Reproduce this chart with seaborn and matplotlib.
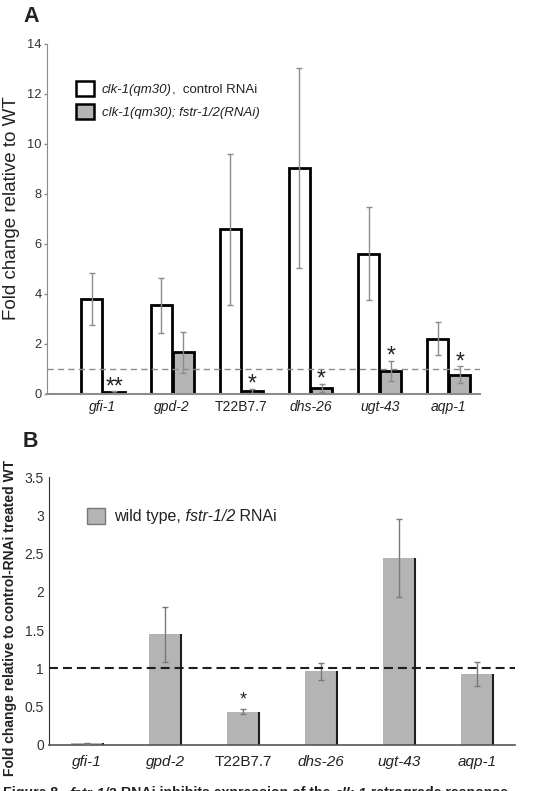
import pandas as pd
import matplotlib.pyplot as plt
import seaborn as sns
from matplotlib.patches import Patch

genes = ['gfi-1', 'gpd-2', 'T22B7.7', 'dhs-26', 'ugt-43', 'aqp-1']

# Panel A: clk-1(qm30), fold change relative to WT
ctrl_a = [3.8, 3.55, 6.6, 9.05, 5.62, 2.22]
ctrl_a_err = [1.05, 1.1, 3.02, 4.0, 1.85, 0.67]
fstr_a = [0.07, 1.67, 0.12, 0.24, 0.94, 0.77]
fstr_a_err = [0.04, 0.82, 0.1, 0.17, 0.4, 0.34]
sig_a = ['**', '', '*', '*', '*', '*']
yticks_a = [0, 2, 4, 6, 8, 10, 12, 14]

# Panel B: wild type, fstr-1/2 RNAi relative to control RNAi
wt_b = [0.02, 1.445, 0.435, 0.962, 2.437, 0.927]
wt_b_err = [0.004, 0.36, 0.033, 0.113, 0.51, 0.163]
sig_b = ['', '', '*', '', '', '']
yticks_b = [0, 0.5, 1, 1.5, 2, 2.5, 3, 3.5]
yticklabels_b = ['0', '0.5', '1', '1.5', '2', '2.5', '3', '3.5']

GREY = '#b4b4b4'

sns.set_style('ticks')
plt.rcParams['font.family'] = ['Liberation Sans', 'DejaVu Sans']
plt.rcParams['text.color'] = '#222222'

fig = plt.figure(figsize=(5.6, 7.91), dpi=100)
ax1 = fig.add_axes([47/560, 1 - 394/791, 433/560, 350/791])
ax2 = fig.add_axes([49/560, 1 - 745/791, 466/560, 268/791])

# ---------------- Panel A ----------------
df_a = pd.DataFrame({'gene': genes * 2,
                     'value': ctrl_a + fstr_a,
                     'group': ['ctrl'] * len(genes) + ['fstr'] * len(genes)})
sns.barplot(data=df_a, x='gene', y='value', hue='group', hue_order=['ctrl', 'fstr'],
            palette={'ctrl': 'white', 'fstr': GREY}, saturation=1,
            edgecolor='black', linewidth=2, width=0.64, gap=0.05,
            errorbar=None, legend=False, ax=ax1)

for cont, errs in zip(ax1.containers, [ctrl_a_err, fstr_a_err]):
    xs = [p.get_x() + p.get_width() / 2 for p in cont]
    hs = [p.get_height() for p in cont]
    ax1.errorbar(xs, hs, yerr=errs, fmt='none', ecolor='#8c8c8c',
                 elinewidth=1, capsize=2.5, capthick=1, zorder=3)

xs_f = [p.get_x() + p.get_width() / 2 for p in ax1.containers[1]]
for x, v, e, s in zip(xs_f, fstr_a, fstr_a_err, sig_a):
    if s:
        ax1.annotate(s, (x, v + e), xytext=(0, -1.5), textcoords='offset points',
                     ha='center', va='baseline', fontsize=16.5)

ax1.axhline(1, color='#8c8c8c', lw=1, ls=(0, (4.5, 3)), zorder=4)
ax1.set_xlim(-0.81, 5.45)
ax1.set_ylim(0, 14)
ax1.set_yticks(yticks_a)
ax1.set_xlabel('')
ax1.set_ylabel('')
sns.despine(ax=ax1)
ax1.spines['left'].set_color('#8c8c8c')
ax1.spines['bottom'].set_color('#8c8c8c')
ax1.spines['bottom'].set_linewidth(1.5)
ax1.tick_params(axis='y', length=2.5, width=1, color='#8c8c8c', pad=1.5,
                labelsize=9.3, labelcolor='#333333')
ax1.tick_params(axis='x', length=0, pad=4.5, labelsize=10, labelcolor='#222222')
for lbl in ax1.get_xticklabels():
    if lbl.get_text() != 'T22B7.7':
        lbl.set_style('italic')

handles_a = [Patch(facecolor='white', edgecolor='black', lw=1.8),
             Patch(facecolor=GREY, edgecolor='black', lw=1.8)]
leg_a = ax1.legend(handles_a, ['clk-1(qm30)', 'clk-1(qm30); fstr-1/2(RNAi)'],
                   loc='upper left', bbox_to_anchor=(76/560, 1 - 81/791),
                   bbox_transform=fig.transFigure, frameon=False, fontsize=9.5,
                   handlelength=1.37, handleheight=1.37, handletextpad=0.6,
                   labelspacing=0.62, borderpad=0, borderaxespad=0)
for t in leg_a.get_texts():
    t.set_style('italic')
ax1.annotate(',  control RNAi', xy=(1, 0), xycoords=leg_a.get_texts()[0],
             va='bottom', fontsize=9.5, zorder=6)

fig.text(12/560, 1 - 208/791, 'Fold change relative to WT', rotation=90,
         ha='center', va='center', fontsize=13.5)
fig.text(23/560, 1 - 22/791, 'A', fontsize=15.5, weight='heavy', va='baseline')

# ---------------- Panel B ----------------
df_b = pd.DataFrame({'gene': genes, 'value': wt_b})
sns.barplot(data=df_b, x='gene', y='value', color=GREY, saturation=1,
            width=0.41, errorbar=None, linewidth=0, ax=ax2)
bars = ax2.containers[0]
ax2.vlines([p.get_x() + p.get_width() for p in bars], 0,
           [p.get_height() for p in bars], colors='#1e1e1e', lw=1.5, zorder=2)
xs_b = [p.get_x() + p.get_width() / 2 for p in bars]
ax2.errorbar(xs_b, [p.get_height() for p in bars], yerr=wt_b_err, fmt='none',
             ecolor='#7a7a7a', elinewidth=1, capsize=2, capthick=1, zorder=3)
for x, v, e, s in zip(xs_b, wt_b, wt_b_err, sig_b):
    if s:
        ax2.annotate(s, (x, v + e), xytext=(0, 3.5), textcoords='offset points',
                     ha='center', va='baseline', fontsize=13)

ax2.axhline(1, color='#1e1e1e', lw=1.5, ls=(0, (4.3, 2.4)), zorder=4)
ax2.set_xlim(-0.49, 5.49)
ax2.set_ylim(0, 3.5)
ax2.set_yticks(yticks_b)
ax2.set_yticklabels(yticklabels_b)
ax2.set_xlabel('')
ax2.set_ylabel('')
sns.despine(ax=ax2)
ax2.spines['left'].set_color('#333333')
ax2.spines['bottom'].set_color('#555555')
ax2.spines['bottom'].set_linewidth(1.2)
ax2.tick_params(axis='y', length=0, pad=3.6, labelsize=10, labelcolor='#333333')
ax2.tick_params(axis='x', length=0, pad=7, labelsize=11, labelcolor='#222222')
for lbl in ax2.get_xticklabels():
    if lbl.get_text() != 'T22B7.7':
        lbl.set_style('italic')

leg_b = ax2.legend([Patch(facecolor=GREY, edgecolor='#777777', lw=1)], ['wild type,'],
                   loc='upper left', bbox_to_anchor=(87/560, 1 - 508/791),
                   bbox_transform=fig.transFigure, frameon=False, fontsize=11.5,
                   handlelength=1.13, handleheight=1.13, handletextpad=0.56,
                   borderpad=0, borderaxespad=0)
t1 = ax2.annotate(' fstr-1/2', xy=(1, 0), xycoords=leg_b.get_texts()[0],
                  va='bottom', fontsize=11.5, style='italic', zorder=6)
ax2.annotate(' RNAi', xy=(1, 0), xycoords=t1, va='bottom', fontsize=11.5, zorder=6)

fig.text(10/560, 1 - 618/791, 'Fold change relative to control-RNAi treated WT',
         rotation=90, ha='center', va='center', fontsize=10, weight='bold')
fig.text(23/560, 1 - 447/791, 'B', fontsize=15.5, weight='heavy', va='baseline')

# caption (cut off at the bottom edge, as in the source figure)
parts = [('Figure 8.  ', 'normal'), ('fstr-1/2', 'italic'),
         (' RNAi inhibits expression of the ', 'normal'), ('clk-1', 'italic'),
         (' retrograde response', 'normal')]
prev = fig.text(3/560, 1 - 797.5/791, parts[0][0], fontsize=10.2, weight='bold',
                va='baseline')
for txt, st in parts[1:]:
    prev = ax2.annotate(txt, xy=(1, 0), xycoords=prev, va='bottom', fontsize=10.2,
                        weight='bold', style=st, annotation_clip=False)

fig.savefig('out.png', dpi=100)
